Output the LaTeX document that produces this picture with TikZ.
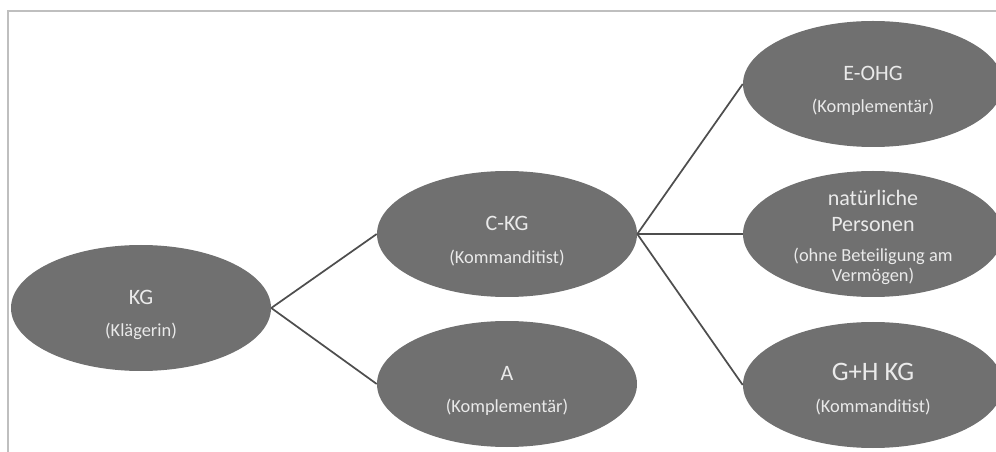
\documentclass[tikz,border=0pt]{standalone}
\usepackage{fontspec}
\setmainfont{Carlito}
\usetikzlibrary{shapes.geometric}

\definecolor{blobgray}{RGB}{112,112,112}
\definecolor{blobtext}{RGB}{234,234,234}
\definecolor{linkgray}{RGB}{78,78,78}
\newcommand{\nm}{\fontsize{16.5}{18}\selectfont\rule{0pt}{21pt}}
\newcommand{\nmplain}{\fontsize{16.5}{18}\selectfont}
\newcommand{\bignm}{\fontsize{20}{22}\selectfont\rule{0pt}{19pt}}

\begin{document}
\begin{tikzpicture}[x=0.75pt, y=-0.75pt,
        blob/.style={ellipse, fill=blobgray, text=blobtext, align=center,
            minimum width=195pt, minimum height=94.5pt, inner sep=-16pt,
            font=\fontsize{13.8}{15}\selectfont},
        link/.style={draw=linkgray, line width=1.3pt}]
        \useasboundingbox (0,0) rectangle (996,452);
        \clip (0,0) rectangle (996,452);

        % frame
        \draw[gray!50, line width=1pt] (996,11) -- (8,11) -- (8,452);

        % Left: the claimant
        \node[blob] (kg) at (141,308) {{\nm KG}\\[9.5pt](Klägerin)};

        % Middle column
        \node[blob] (ckg) at (507,234) {{\nm C-KG}\\[9.5pt](Kommanditist)};
        \node[blob] (a) at (507,384) {{\nm A}\\[9.5pt](Komplementär)};

        % Right column
        \node[blob] (eohg) at (873,84) {{\nm E-OHG}\\[9.5pt](Komplementär)};
        \node[blob] (nat) at (873,234) {{\nmplain\rule{0pt}{16.5pt}natürliche}\\[4.5pt]{\nmplain Personen}\\[7.5pt](ohne Beteiligung am\\Vermögen)};
        \node[blob] (gh) at (873,385) {{\bignm G+H KG}\\[9pt](Kommanditist)};

        % Links
        \draw[link] (kg.east) -- (ckg.west);
        \draw[link] (kg.east) -- (a.west);
        \draw[link] (ckg.east) -- (eohg.west);
        \draw[link] (ckg.east) -- (nat.west);
        \draw[link] (ckg.east) -- (gh.west);
\end{tikzpicture}
\end{document}
